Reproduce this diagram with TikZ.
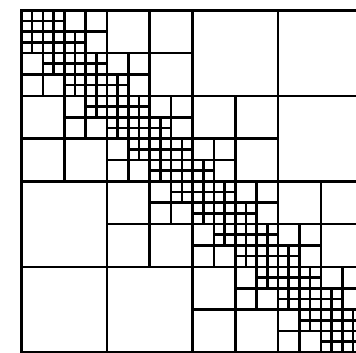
\documentclass[tikz,border=0pt]{standalone}
\tikzset{cellline/.style={draw=black,line width=2.6pt}}
\newcommand\hmblk[3]{%
  \ifnum\numexpr#3\relax=1
    \def\hmnext{\draw[cellline] (#2,#1) rectangle ++(1,1);}%
  \else
    \ifnum\numexpr\ifnum#1>#2 #1-#2\else #2-#1\fi\relax<\numexpr2*#3\relax
      \edef\hmnext{%
        \noexpand\hmblk{#1}{#2}{\the\numexpr#3/2\relax}%
        \noexpand\hmblk{#1}{\the\numexpr#2+#3/2\relax}{\the\numexpr#3/2\relax}%
        \noexpand\hmblk{\the\numexpr#1+#3/2\relax}{#2}{\the\numexpr#3/2\relax}%
        \noexpand\hmblk{\the\numexpr#1+#3/2\relax}{\the\numexpr#2+#3/2\relax}{\the\numexpr#3/2\relax}%
      }%
    \else
      \def\hmnext{\draw[cellline] (#2,#1) rectangle ++(#3,#3);}%
    \fi
  \fi
  \hmnext}
\begin{document}
\begin{tikzpicture}
\useasboundingbox (0pt,0pt) rectangle (356pt,-353pt);
\fill[white] (0pt,0pt) rectangle (356pt,-353pt);
\clip (0pt,0pt) rectangle (356pt,-353pt);
\begin{scope}[shift={(21.5pt,-10.3pt)},x=10.69pt,y=-10.69pt]
\hmblk{0}{0}{32}
\end{scope}
\end{tikzpicture}
\end{document}
